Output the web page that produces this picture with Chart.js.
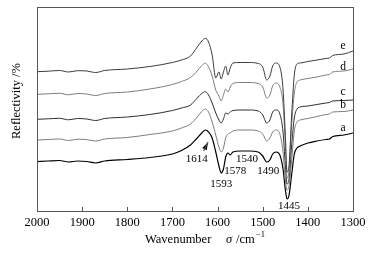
<!DOCTYPE html>
<html><head><meta charset="utf-8">
<script src="https://cdn.jsdelivr.net/npm/chart.js@4/dist/chart.umd.min.js"></script>
<style>html,body{margin:0;padding:0;background:#fff}#wrap{width:372px;height:254px}</style>
</head><body><div id="wrap"><canvas id="c" width="372" height="254"></canvas></div>
<script>
// Wavenumber grid (cm^-1), reversed axis 2000 -> 1300
const wavenumbers = [2000,1975,1950,1930,1910,1890,1870,1850,1800,1750,1700,1680,1660,1645,1635,1627,1620,1612,1604,1597,1592,1587,1582,1577,1572,1566,1550,1530,1510,1500,1491,1484,1478,1470,1462,1455,1450,1446,1442,1436,1430,1424,1417,1400,1380,1360,1352,1345,1320,1300];
// Reflectivity (arbitrary offset units) for each sample
const seriesA = [49.3,50,50.5,49,50,49.5,48,50,51.5,53.5,57,60.5,66,73,78,81,79,73,59,45,38,42,54,58,56,59,60,60,59,55,49,51,57,59,56,42,22,12,15,36,57,63,65,68,70,71.5,72,74.5,76,78];
const seriesB = [71,71.5,72,70.5,71.8,71.4,70,72,73.5,76.5,80,83,87,94,99.5,102,99,89,76,64,59,63,73,77,78,80,81,81,80,77,70,73,79,81,77,59,32,21,24,50,80,89,91,92.5,94.5,96.5,97,99,99.5,101];
const seriesC = [91.7,92.2,92.7,91.2,92.5,92,90.5,92.5,94,96.5,100.5,103,106,113,117.5,119.3,116,108,98,91,88,92,98,97,99,100.5,101,101,100,96,88,91,99,101,97,79,47,27,31,65,93,102,104,105,106.5,108,108.5,110,110.5,111];
const seriesD = [116.7,117.2,117.7,116.2,117.5,117,115.5,117.5,119,122,126.5,129.5,133.5,140,145.5,147.7,144,135,121,115,110,116,122,119,124,127.5,128.5,128.5,127.5,124,113,116,125,128,124,107,67,33,39,85,118,129,131,132.5,134,136,136.5,139,140,142];
const seriesE = [139.3,139.8,140.5,139,140.3,140,138.5,140.5,142,144.5,148.5,151,155,164,170,172.7,169,156,133,139,132,139,145,136,143,148,148.5,148.5,147.5,144,131,135,145,148,144,122,77,39,44,95,136,147,148,149.5,151,152.5,153,155.5,157,160];
const tickLabels = [2000,1900,1800,1700,1600,1500,1400,1300];
const curveNames = ['a','b','c','d','e'];
// label anchors for curve names (wavenumber, level)
const curveLabelX = [1322,1322,1322,1322,1322];
const curveLabelY = [83,106,119,144,165];
// band annotations
const bandNames = ['1614','1593','1578','1540','1490','1445'];
const bandLabelX = [1646,1592,1561,1535,1488,1442];
const bandLabelY = [52,27,40,52,40,5];

const serif = "'Liberation Serif','Times New Roman',serif";
const mk = (arr) => wavenumbers.map((w,i)=>({x:w,y:arr[i]}));
const allSeries = [seriesA,seriesB,seriesC,seriesD,seriesE];
const colors = ['#000000','#7d7d7d','#2e2e2e','#7d7d7d','#3c3c3c'];
const widths = [1.2,1,1,1,1];

const deco = {
  id:'deco',
  afterDraw(chart){
    const ctx = chart.ctx, a = chart.chartArea, xs = chart.scales.x, ys = chart.scales.y;
    ctx.save();
    ctx.strokeStyle = '#555'; ctx.lineWidth = 1;
    ctx.strokeRect(a.left+0.5, a.top+0.5, a.right-a.left, a.bottom-a.top);
    // inward ticks
    tickLabels.forEach(v=>{
      const px = Math.round(xs.getPixelForValue(v))+0.5;
      ctx.beginPath(); ctx.moveTo(px, a.bottom); ctx.lineTo(px, a.bottom-4); ctx.stroke();
    });
    ctx.fillStyle = '#000';
    // curve names
    ctx.font = '11.5px ' + serif; ctx.textAlign='center'; ctx.textBaseline='middle';
    curveNames.forEach((n,i)=>{
      ctx.fillText(n, xs.getPixelForValue(curveLabelX[i]), ys.getPixelForValue(curveLabelY[i]));
    });
    // band labels
    ctx.font = '11px ' + serif;
    bandNames.forEach((n,i)=>{
      ctx.fillText(n, xs.getPixelForValue(bandLabelX[i]), ys.getPixelForValue(bandLabelY[i]));
    });
    // arrow toward 1614 shoulder
    const tx = xs.getPixelForValue(1621), ty = ys.getPixelForValue(69);
    const fx = xs.getPixelForValue(1631), fy = ys.getPixelForValue(60);
    const ang = Math.atan2(ty-fy, tx-fx);
    ctx.beginPath();
    ctx.moveTo(tx,ty);
    ctx.lineTo(tx-8*Math.cos(ang)+2.5*Math.sin(ang), ty-8*Math.sin(ang)-2.5*Math.cos(ang));
    ctx.lineTo(tx-8*Math.cos(ang)-2.5*Math.sin(ang), ty-8*Math.sin(ang)+2.5*Math.cos(ang));
    ctx.closePath(); ctx.fill();
    ctx.beginPath(); ctx.lineWidth=1.2; ctx.moveTo(tx,ty); ctx.lineTo(fx,fy); ctx.stroke();
    // x title
    ctx.textAlign='left';
    ctx.font = '12.5px ' + serif;
    ctx.fillText('Wavenumber', 145, 240);
    ctx.font = 'italic 12.5px ' + serif;
    ctx.fillText('\u03c3', 226, 240);
    ctx.font = '12.5px ' + serif;
    ctx.fillText('/cm', 236, 240);
    ctx.font = '8.5px ' + serif;
    ctx.fillText('\u22121', 256, 235);
    // y title
    ctx.translate(17, 101); ctx.rotate(-Math.PI/2);
    ctx.textAlign='center'; ctx.font = '12.5px ' + serif;
    ctx.fillText('Reflectivity /%', 0, 0);
    ctx.restore();
  }
};

new Chart(document.getElementById('c'), {
  type:'line',
  data:{ datasets: allSeries.map((s,i)=>({
    label: curveNames[i], data: mk(s), borderColor: colors[i], borderWidth: widths[i],
    pointRadius:0, fill:false, cubicInterpolationMode:'monotone'
  })).reverse() },
  options:{
    responsive:false, animation:false, devicePixelRatio:1,
    layout:{ padding:{ left:37, top:7, right:19, bottom:0 } },
    plugins:{ legend:{display:false}, tooltip:{enabled:false} },
    scales:{
      x:{ type:'linear', reverse:true, min:1300, max:2000,
          afterBuildTicks:(s)=>{ s.ticks = tickLabels.map(v=>({value:v})); },
          afterFit:(s)=>{ s.height = 43; },
          grid:{ display:false, drawTicks:false }, border:{display:false},
          ticks:{ padding:4, color:'#000', font:{ family:serif, size:12.5 }, maxRotation:0, autoSkip:false,
                  callback:(v)=>String(v) } },
      y:{ display:false, min:0, max:204 }
    }
  },
  plugins:[deco]
});
</script></body></html>
